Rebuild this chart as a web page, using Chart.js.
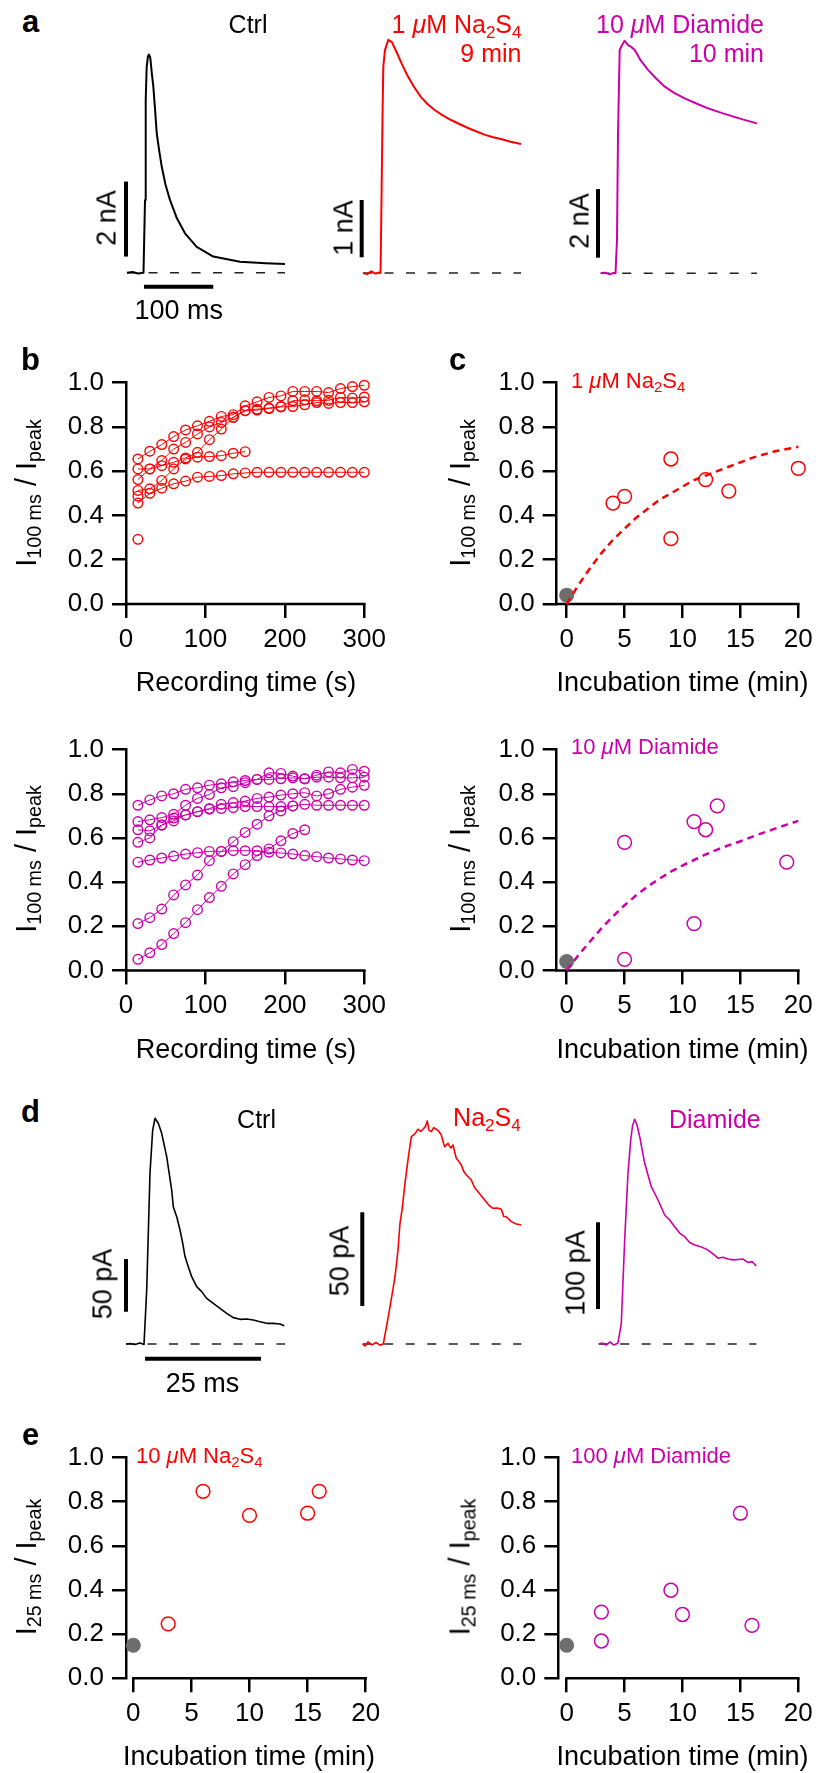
<!DOCTYPE html>
<html><head><meta charset="utf-8">
<script src="https://cdn.jsdelivr.net/npm/chart.js@4.4.1/dist/chart.umd.min.js"></script>
<style>
html,body{margin:0;padding:0;background:#fff;}
#fig{position:relative;width:816px;height:1773px;overflow:hidden;font-family:'Liberation Sans',Arial,Helvetica,sans-serif;color:#000;background:#fff;}
#fig canvas{position:absolute;}
.t{position:absolute;white-space:nowrap;line-height:1;}
.s{font-size:0.68em;vertical-align:-0.28em;line-height:0;}
.mu{font-style:italic;}
</style></head><body><div id="fig"></div>
<script>
// ---------------- DATA ----------------
// Panel a traces (time in ms, current in nA)
const aCtrlT = [0, 8, 16, 23.8, 24.5, 26, 27, 28.4, 30.3, 31.7, 33.6, 36.1, 38, 40.5, 42.9, 46.5, 50.1, 55.5, 62, 72, 83.7, 100.6, 124.5, 163, 200, 228];
const aCtrlI = [0, 0.02, -0.02, 0, 0, 1.94, 4.6, 5.49, 5.78, 5.82, 5.73, 5.27, 4.96, 4.35, 3.72, 3.25, 2.83, 2.35, 1.94, 1.45, 1.05, 0.69, 0.43, 0.29, 0.25, 0.23];
const aNaT = [0, 6, 12, 18, 24, 25.3, 26.7, 28.1, 29.3, 31.7, 36.5, 41.8, 49, 56, 63.5, 73, 83.7, 93, 103.9, 115, 127, 139, 151.5, 164, 176, 188, 199, 213, 228];
const aNaI = [0, -0.02, 0.03, -0.01, 0.01, 0, 1.27, 2.67, 3.6, 3.89, 4.07, 4.03, 3.84, 3.65, 3.46, 3.26, 3.07, 2.95, 2.84, 2.75, 2.67, 2.6, 2.53, 2.47, 2.41, 2.37, 2.34, 2.29, 2.25];
const aDiT = [0, 6, 13.4, 18, 21.4, 23.5, 25, 27.4, 30.7, 34.6, 39.4, 44, 49.1, 58, 68.3, 80, 92.4, 106, 121.2, 138, 154.8, 171, 188, 206, 225.5];
const aDiI = [0, 0.02, -0.03, 0.01, 0, 0.97, 4.09, 6.51, 6.65, 6.78, 6.65, 6.6, 6.51, 6.2, 5.93, 5.68, 5.44, 5.26, 5.1, 4.95, 4.81, 4.7, 4.59, 4.48, 4.37];
// scale bars [t1,I1,t2,I2] and baseline spans [t0,t1]
const aCtrlBarV = [-1.44, 0.43, -1.44, 2.43];
const aCtrlBarH = [24.5, -0.373, 124.5, -0.373];
const aNaBarV = [-1.9, 0.274, -1.9, 1.274];
const aDiBarV = [-3.9, 0.455, -3.9, 2.455];
const aCtrlBase = [0, 228], aNaBase = [0, 228], aDiBase = [0, 225.5];

// Panel d traces (time in ms, current in pA)
const dCtrlT = [0, 0.86, 1.94, 3.0, 3.88, 4.46, 5.17, 5.75, 6.25, 6.96, 7.69, 8.77, 9.85, 10.19, 10.93, 11.64, 12.22, 12.72, 13.43, 14.16, 15.24, 16.31, 17.39, 18.81, 20.26, 21.7, 23.13, 24.57, 26.01, 27.44, 28.88, 30.32, 31.75, 33.19, 34.12];
const dCtrlI = [0, 0.5, -0.5, 0.9, -0.5, 51.2, 162, 203, 214.2, 209.4, 199.9, 177.7, 146.1, 130.3, 120.8, 108.2, 95.6, 82.9, 73.4, 63.9, 54.4, 49.7, 43.3, 38.6, 33.9, 29.1, 25, 23.4, 23.7, 22.8, 21.2, 19.6, 19.6, 19, 17.4];
const dNaT = [0, 0.5, 1.14, 2.0, 2.87, 3.73, 4.44, 5.52, 6.31, 6.96, 7.6, 8.04, 8.5, 9.12, 9.76, 10.47, 11.2, 11.92, 12.5, 13.0, 13.5, 13.92, 14.3, 14.78, 15.3, 15.86, 16.4, 16.94, 17.3, 17.67, 18.38, 19.0, 19.46, 20.17, 20.7, 21.25, 21.8, 22.33, 23.41, 24.1, 24.85, 25.6, 26.29, 27.2, 28.08, 29.0, 29.87, 30.4, 30.95, 32.03, 33.1, 34.18];
const dNaI = [0, -1.1, 1.1, -0.5, 0.8, -0.6, 0, 14.6, 26.1, 35.9, 50, 64.4, 72, 85.8, 98.2, 110.7, 112, 114.6, 113.5, 114.6, 116, 119, 114, 113.3, 115.5, 114.6, 113.5, 111.5, 108, 105.3, 107.1, 104.5, 106.2, 99.1, 97.5, 95.5, 92, 90.2, 87.5, 83.5, 81.3, 79, 76.8, 74, 72.4, 72.5, 71.9, 68, 67.9, 65.3, 64.0, 63.5];
const dDiT = [0, 0.71, 1.57, 2.44, 3.3, 4.16, 4.87, 5.6, 6.31, 6.9, 7.3, 7.76, 8.25, 8.84, 9.91, 11.34, 12.78, 14.22, 15.3, 16.38, 17.45, 18.53, 19.6, 20.69, 22.1, 23.56, 24.63, 25.71, 26.79, 27.87, 28.95, 30.02, 31.1, 32.18, 33.04, 33.97];
const dDiI = [0, 1.2, -1.2, 2.3, -1.2, 1.2, 23.9, 120, 196.9, 235.3, 252, 259.2, 252.6, 239.1, 208.4, 181.4, 166.1, 148.8, 143, 135.3, 128, 123.8, 117, 114.2, 112, 108.4, 104, 99, 100, 98, 97, 97.5, 98, 94, 95, 90];
const dCtrlBarV = [0, 30.6, 0, 80.6];
const dCtrlBarH = [4.09, -13.9, 29.09, -13.9];
const dNaBarV = [-0.09, 20.3, -0.09, 70.3];
const dDiBarV = [-0.15, 40.4, -0.15, 140.4];
const dCtrlBase = [0, 34.27], dNaBase = [0, 34.18], dDiBase = [0, 33.97];

// Panel b: recording time (s) and I100ms/Ipeak per cell
const bTimes = [15, 30, 45, 60, 75, 90, 105, 120, 135, 150, 165, 180, 195, 210, 225, 240, 255, 270, 285, 300];
const bNa1 = [0.655, 0.69, 0.72, 0.756, 0.786, 0.805, 0.825, 0.847, 0.855, 0.895, 0.913, 0.933, 0.94, 0.96, 0.96, 0.96, 0.955, 0.973, 0.982, 0.988];
const bNa2 = [0.61, 0.61, 0.648, 0.70, 0.73, 0.768, 0.80, 0.82, 0.843, 0.873, 0.88, 0.885, 0.892, 0.918, 0.922, 0.918, 0.92, 0.933, 0.93, 0.935];
const bNa3 = [0.562, 0.61, 0.625, 0.64, 0.66, 0.685, 0.742, 0.79, 0.843, 0.873, 0.876, 0.883, 0.89, 0.892, 0.90, 0.91, 0.906, 0.91, 0.91, 0.913];
const bNa4 = [0.513, 0.52, 0.558, 0.61, 0.655, 0.663, 0.666, 0.67, 0.681, 0.688];
const bNa5 = [0.456, 0.50, 0.523, 0.543, 0.555, 0.573, 0.576, 0.58, 0.588, 0.592, 0.595, 0.595, 0.595, 0.595, 0.595, 0.595, 0.595, 0.595, 0.595, 0.595];
const bNa6 = [0.487];
const bNa7 = [0.292];
const bDi1 = [0.748, 0.772, 0.79, 0.80, 0.82, 0.827, 0.839, 0.845, 0.854, 0.86, 0.865, 0.895, 0.892, 0.88, 0.868, 0.884, 0.899, 0.895, 0.91, 0.902];
const bDi2 = [0.674, 0.682, 0.692, 0.707, 0.748, 0.779, 0.797, 0.827, 0.832, 0.85, 0.865, 0.865, 0.868, 0.872, 0.868, 0.875, 0.875, 0.872, 0.872, 0.875];
const bDi3 = [0.637, 0.632, 0.658, 0.69, 0.704, 0.719, 0.733, 0.752, 0.76, 0.767, 0.779, 0.785, 0.794, 0.80, 0.805, 0.79, 0.80, 0.82, 0.83, 0.838];
const bDi4 = [0.58, 0.60, 0.658, 0.677, 0.704, 0.719, 0.73, 0.733, 0.737, 0.742, 0.742, 0.742, 0.742, 0.745, 0.752, 0.748, 0.748, 0.748, 0.748, 0.748];
const bDi5 = [0.49, 0.50, 0.509, 0.518, 0.527, 0.533, 0.539, 0.539, 0.542, 0.542, 0.542, 0.535, 0.532, 0.527, 0.52, 0.515, 0.509, 0.505, 0.50, 0.497];
const bDi6 = [0.212, 0.239, 0.278, 0.342, 0.387, 0.432, 0.497, 0.539, 0.583, 0.625, 0.662, 0.70, 0.722, 0.745];
const bDi7 = [0.05, 0.08, 0.117, 0.167, 0.216, 0.275, 0.33, 0.381, 0.437, 0.479, 0.52, 0.55, 0.587, 0.62, 0.637];

// Panel c: incubation time (min) vs I100ms/Ipeak
const cNaX = [4, 5, 9, 9, 12, 14, 20];
const cNaY = [0.456, 0.486, 0.655, 0.295, 0.562, 0.51, 0.613];
const cDiX = [5, 5, 11, 11, 12, 13, 19];
const cDiY = [0.58, 0.05, 0.674, 0.212, 0.637, 0.745, 0.49];
const cCtrlX = [0], cCtrlY = [0.04];
const cFitX = [0, 1, 2, 3, 4, 5, 6, 7, 8, 9, 10, 11, 12, 13, 14, 15, 16, 17, 18, 19, 20];
const cNaFitY = [0.0, 0.085, 0.16, 0.23, 0.29, 0.34, 0.39, 0.43, 0.47, 0.50, 0.53, 0.56, 0.58, 0.60, 0.62, 0.64, 0.66, 0.675, 0.69, 0.70, 0.71];
const cDiFitY = [0.0, 0.068, 0.13, 0.19, 0.245, 0.295, 0.34, 0.38, 0.415, 0.447, 0.475, 0.50, 0.525, 0.547, 0.567, 0.585, 0.605, 0.624, 0.642, 0.66, 0.677];

// Panel e: incubation time (min) vs I25ms/Ipeak
const eNaX = [3, 6, 10, 15, 16];
const eNaY = [0.247, 0.847, 0.738, 0.748, 0.847];
const eDiX = [3, 3, 9, 10, 15, 16];
const eDiY = [0.30, 0.169, 0.399, 0.289, 0.748, 0.24];
const eCtrlX = [0], eCtrlY = [0.15];

// Tick labels
const xTicksRec = [0, 100, 200, 300];
const xTicksInc = [0, 5, 10, 15, 20];
const yTicksFrac = [0, 0.2, 0.4, 0.6, 0.8, 1.0];

// ---------------- STYLE / LAYOUT ----------------
const RED = '#ff0000', MAG = '#cc00aa', GRAY = '#6e6e6e', BLK = '#000000';
const FONT = "'Liberation Sans', Arial, Helvetica, sans-serif";
Chart.defaults.font.family = FONT;
Chart.defaults.color = '#000';
const fig = document.getElementById('fig');

function mkCanvas(l, t, w, h) {
  const c = document.createElement('canvas');
  c.width = w; c.height = h;
  c.style.left = l + 'px'; c.style.top = t + 'px';
  c.style.width = w + 'px'; c.style.height = h + 'px';
  fig.appendChild(c);
  return c;
}
const pts = (xs, ys) => ys.map((y, i) => ({x: xs[i], y}));
const seg = (a) => [{x: a[0], y: a[1]}, {x: a[2], y: a[3]}];
const span = (a) => [{x: a[0], y: 0}, {x: a[1], y: 0}];

const baseOpts = {responsive: false, animation: false, devicePixelRatio: 1, events: []};

function traceChart(box, cal, sets) {
  const c = mkCanvas(box.l, box.t, box.r - box.l, box.b - box.t);
  new Chart(c, {
    type: 'line',
    data: {datasets: sets.map(s => ({
      data: s.data, borderColor: s.color, borderWidth: s.width, borderDash: s.dash || [],
      pointRadius: 0, tension: 0, fill: false, clip: false,
      borderCapStyle: 'butt', borderJoinStyle: 'round'
    }))},
    options: Object.assign({}, baseOpts, {
      layout: {padding: 0},
      plugins: {legend: {display: false}, tooltip: {enabled: false}},
      scales: {
        x: {type: 'linear', display: false, min: (box.l - cal.x0) / cal.sx, max: (box.r - cal.x0) / cal.sx},
        y: {type: 'linear', display: false, min: (cal.y0 - box.b) / cal.sy, max: (cal.y0 - box.t) / cal.sy}
      }
    })
  });
}

const xAxisLine = {
  id: 'xAxisLine',
  beforeDatasetsDraw(chart, args, opts) {
    const xs = chart.scales.x, y = chart.chartArea.bottom, ctx = chart.ctx;
    const from = (opts.from === undefined || opts.from === null) ? xs.min : opts.from;
    ctx.save();
    ctx.strokeStyle = '#000'; ctx.lineWidth = 2.5; ctx.lineCap = 'butt';
    ctx.beginPath();
    ctx.moveTo(xs.getPixelForValue(from) - 1.25, y);
    ctx.lineTo(xs.getPixelForValue(xs.max) + 1.25, y);
    ctx.stroke();
    ctx.restore();
  }
};

function plotChart(area, xr, xTicks, xFrom, sets) {
  const YW = 110, PR = 26;
  const L = Math.floor(area.l - YW), T = Math.floor(area.t - 22);
  const W = Math.ceil(area.r + PR - L), H = Math.ceil(area.b + 70 - T);
  const XH = T + H - area.b;
  const c = mkCanvas(L, T, W, H);
  const gridCfg = {display: true, drawOnChartArea: false, drawTicks: true, tickLength: 14, lineWidth: 2.5, color: '#000'};
  new Chart(c, {
    type: 'scatter',
    data: {datasets: sets},
    options: Object.assign({}, baseOpts, {
      layout: {padding: {left: area.l - YW - L, top: area.t - T, right: L + W - area.r, bottom: 0}},
      plugins: {legend: {display: false}, tooltip: {enabled: false}, xAxisLine: {from: xFrom}},
      scales: {
        x: {type: 'linear', position: 'bottom', min: xr[0], max: xr[1],
            afterFit(s) { s.height = XH; },
            afterBuildTicks(s) { s.ticks = xTicks.map(v => ({value: v})); },
            border: {display: false}, grid: gridCfg,
            ticks: {color: '#000', font: {size: 26, family: FONT}, padding: 6, maxRotation: 0, autoSkip: false, callback: v => String(v)}},
        y: {type: 'linear', position: 'left', min: 0, max: 1,
            afterFit(s) { s.width = YW; },
            afterBuildTicks(s) { s.ticks = yTicksFrac.map(v => ({value: v})); },
            border: {display: true, color: '#000', width: 2.5}, grid: gridCfg,
            ticks: {color: '#000', font: {size: 26, family: FONT}, padding: 8, autoSkip: false, callback: v => Number(v).toFixed(1)}}
      }
    }),
    plugins: [xAxisLine]
  });
}

function bSeries(ys, color) {
  return {data: pts(bTimes, ys), showLine: true, borderColor: color, borderWidth: 1,
          pointRadius: 4.8, pointBorderWidth: 1.4, pointBorderColor: color,
          pointBackgroundColor: 'rgba(0,0,0,0)', backgroundColor: 'rgba(0,0,0,0)', clip: false};
}
function openPts(xs, ys, color) {
  return {data: pts(xs, ys), showLine: false, borderColor: color, pointBorderColor: color,
          pointRadius: 6.9, pointBorderWidth: 1.5, pointBackgroundColor: 'rgba(0,0,0,0)',
          backgroundColor: 'rgba(0,0,0,0)', clip: false};
}
function ctrlPt(xs, ys) {
  return {data: pts(xs, ys), showLine: false, pointRadius: 7.5, pointBorderWidth: 0,
          pointBackgroundColor: GRAY, backgroundColor: GRAY, borderColor: GRAY, clip: false};
}
function fitLine(xs, ys, color) {
  return {data: pts(xs, ys), showLine: true, borderColor: color, borderWidth: 2.5,
          borderDash: [7, 5], pointRadius: 0, clip: false};
}

// ---------------- PANEL a ----------------
const dashBase = {color: '#222', width: 1.5, dash: [9, 12.5]};
traceChart({l: 95, t: 30, r: 300, b: 300}, {x0: 127, sx: 0.693, y0: 272.7, sy: 37.5}, [
  {data: pts(aCtrlT, aCtrlI), color: BLK, width: 2},
  {data: seg(aCtrlBarV), color: BLK, width: 4},
  {data: seg(aCtrlBarH), color: BLK, width: 4},
  Object.assign({data: span(aCtrlBase)}, dashBase)
]);
traceChart({l: 335, t: 30, r: 540, b: 300}, {x0: 363, sx: 0.693, y0: 273, sy: 57.3}, [
  {data: pts(aNaT, aNaI), color: RED, width: 2},
  {data: seg(aNaBarV), color: BLK, width: 4},
  Object.assign({data: span(aNaBase)}, dashBase)
]);
traceChart({l: 575, t: 30, r: 780, b: 300}, {x0: 600.7, sx: 0.693, y0: 273.3, sy: 34.3}, [
  {data: pts(aDiT, aDiI), color: MAG, width: 2},
  {data: seg(aDiBarV), color: BLK, width: 4},
  Object.assign({data: span(aDiBase)}, dashBase)
]);

// ---------------- PANEL d ----------------
traceChart({l: 95, t: 1095, r: 300, b: 1375}, {x0: 126, sx: 4.64, y0: 1344, sy: 1.054}, [
  {data: pts(dCtrlT, dCtrlI), color: BLK, width: 1.6},
  {data: seg(dCtrlBarV), color: BLK, width: 4},
  {data: seg(dCtrlBarH), color: BLK, width: 4},
  Object.assign({data: span(dCtrlBase)}, dashBase)
]);
traceChart({l: 335, t: 1095, r: 540, b: 1375}, {x0: 362.7, sx: 4.64, y0: 1344, sy: 1.874}, [
  {data: pts(dNaT, dNaI), color: RED, width: 1.6},
  {data: seg(dNaBarV), color: BLK, width: 4},
  Object.assign({data: span(dNaBase)}, dashBase)
]);
traceChart({l: 575, t: 1095, r: 780, b: 1375}, {x0: 598.7, sx: 4.64, y0: 1344, sy: 0.867}, [
  {data: pts(dDiT, dDiI), color: MAG, width: 1.6},
  {data: seg(dDiBarV), color: BLK, width: 4},
  Object.assign({data: span(dDiBase)}, dashBase)
]);

// ---------------- PANELS b, c, e ----------------
plotChart({l: 126, t: 381.7, r: 365.7, b: 604}, [0, 300], xTicksRec, 0,
  [bNa1, bNa2, bNa3, bNa4, bNa5, bNa6, bNa7].map(s => bSeries(s, RED)));
plotChart({l: 556.7, t: 381.7, r: 798.3, b: 604}, [-0.86, 20], xTicksInc, null,
  [fitLine(cFitX, cNaFitY, RED), ctrlPt(cCtrlX, cCtrlY), openPts(cNaX, cNaY, RED)]);
plotChart({l: 126, t: 748.3, r: 365.7, b: 970.4}, [0, 300], xTicksRec, 0,
  [bDi1, bDi2, bDi3, bDi4, bDi5, bDi6, bDi7].map(s => bSeries(s, MAG)));
plotChart({l: 556.7, t: 748.3, r: 798.3, b: 970.4}, [-0.86, 20], xTicksInc, null,
  [fitLine(cFitX, cDiFitY, MAG), ctrlPt(cCtrlX, cCtrlY), openPts(cDiX, cDiY, MAG)]);
plotChart({l: 126, t: 1456, r: 365.7, b: 1678.3}, [-0.63, 20], xTicksInc, 0,
  [ctrlPt(eCtrlX, eCtrlY), openPts(eNaX, eNaY, RED)]);
plotChart({l: 558.3, t: 1456, r: 798.3, b: 1678.3}, [-0.72, 20], xTicksInc, 0,
  [ctrlPt(eCtrlX, eCtrlY), openPts(eDiX, eDiY, MAG)]);

// ---------------- TEXT ----------------
function txt(html, x, y, o) {
  o = o || {};
  const d = document.createElement('div');
  d.className = 't';
  const size = o.size || 26;
  d.style.fontSize = size + 'px';
  if (o.bold) d.style.fontWeight = 'bold';
  if (o.color) d.style.color = o.color;
  d.innerHTML = html;
  d.style.left = x + 'px';
  if (o.rot) {
    d.style.top = y + 'px';
    d.style.transform = 'translate(-50%,-50%) rotate(-90deg)';
  } else {
    d.style.top = (y - 0.8465 * size) + 'px';
    if (o.align === 'right') d.style.transform = 'translateX(-100%)';
    else if (o.align === 'center') d.style.transform = 'translateX(-50%)';
  }
  fig.appendChild(d);
}
const MU = '<span class="mu">μ</span>';
const NA2S4 = 'Na<span class="s">2</span>S<span class="s">4</span>';
const Y100 = 'I<span class="s">100 ms</span> / I<span class="s">peak</span>';
const Y25 = 'I<span class="s">25 ms</span> / I<span class="s">peak</span>';

// panel letters
txt('a', 22, 32, {size: 31, bold: true});
txt('b', 21, 370, {size: 31, bold: true});
txt('c', 449, 370, {size: 31, bold: true});
txt('d', 21, 1122, {size: 31, bold: true});
txt('e', 22, 1445, {size: 31, bold: true});

// panel a labels
txt('Ctrl', 267.5, 33.3, {size: 25, align: 'right'});
txt('1 ' + MU + 'M ' + NA2S4, 521.5, 33.3, {size: 25, align: 'right', color: RED});
txt('9 min', 521.5, 61.7, {size: 25, align: 'right', color: RED});
txt('10 ' + MU + 'M Diamide', 764, 33.3, {size: 25, align: 'right', color: MAG});
txt('10 min', 764, 61.7, {size: 25, align: 'right', color: MAG});
txt('2 nA', 107, 217.5, {size: 27, rot: true});
txt('1 nA', 344, 228.3, {size: 27, rot: true});
txt('2 nA', 579.7, 220.8, {size: 27, rot: true});
txt('100 ms', 178.8, 320, {size: 27, align: 'center'});

// panel d labels
txt('Ctrl', 276, 1128.3, {size: 25, align: 'right'});
txt(NA2S4, 520.7, 1126, {size: 25, align: 'right', color: RED});
txt('Diamide', 760.7, 1127.7, {size: 25, align: 'right', color: MAG});
txt('50 pA', 103.3, 1284, {size: 27, rot: true});
txt('50 pA', 340, 1260.8, {size: 27, rot: true});
txt('100 pA', 576.3, 1273.3, {size: 27, rot: true});
txt('25 ms', 202.5, 1393.3, {size: 27, align: 'center'});

// in-plot condition labels
txt('1 ' + MU + 'M ' + NA2S4, 571, 388.3, {size: 22, color: RED});
txt('10 ' + MU + 'M Diamide', 571, 755, {size: 22, color: MAG});
txt('10 ' + MU + 'M ' + NA2S4, 136, 1463.3, {size: 22, color: RED});
txt('100 ' + MU + 'M Diamide', 571, 1463.3, {size: 22, color: MAG});

// axis titles
txt('Recording time (s)', 246, 692, {size: 27, align: 'center'});
txt('Incubation time (min)', 682.5, 692, {size: 27, align: 'center'});
txt('Recording time (s)', 246, 1058.4, {size: 27, align: 'center'});
txt('Incubation time (min)', 682.5, 1058.4, {size: 27, align: 'center'});
txt('Incubation time (min)', 249, 1766, {size: 27, align: 'center'});
txt('Incubation time (min)', 682.5, 1766, {size: 27, align: 'center'});
txt(Y100, 25.6, 492.8, {size: 29, rot: true});
txt(Y100, 459.6, 492.8, {size: 29, rot: true});
txt(Y100, 25.6, 859.4, {size: 29, rot: true});
txt(Y100, 459.6, 859.4, {size: 29, rot: true});
txt(Y25, 25.6, 1567.2, {size: 29, rot: true});
txt(Y25, 459.6, 1567.2, {size: 29, rot: true});
</script></body></html>
